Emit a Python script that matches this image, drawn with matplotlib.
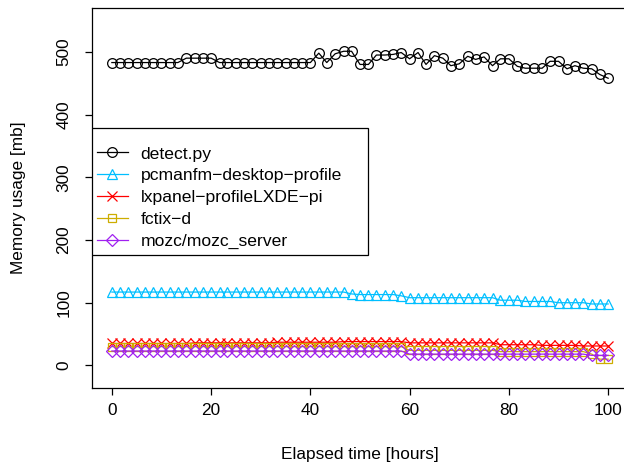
import matplotlib
matplotlib.use("Agg")
import matplotlib.pyplot as plt
from matplotlib.patches import Rectangle

plt.rcParams['font.family'] = ['Liberation Sans', 'DejaVu Sans']

# sampling times [hours], one sample every 100/60 h
hours = [0.0, 1.7, 3.3, 5.0, 6.7, 8.3, 10.0, 11.7, 13.3, 15.0,
         16.7, 18.3, 20.0, 21.7, 23.3, 25.0, 26.7, 28.3, 30.0, 31.7,
         33.3, 35.0, 36.7, 38.3, 40.0, 41.7, 43.3, 45.0, 46.7, 48.3,
         50.0, 51.7, 53.3, 55.0, 56.7, 58.3, 60.0, 61.7, 63.3, 65.0,
         66.7, 68.3, 70.0, 71.7, 73.3, 75.0, 76.7, 78.3, 80.0, 81.7,
         83.3, 85.0, 86.7, 88.3, 90.0, 91.7, 93.3, 95.0, 96.7, 98.3,
         100.0]

detect_py = [483, 483, 483, 483, 483, 483, 483, 483, 483, 490,
             490, 490, 490, 483, 483, 483, 483, 483, 483, 483,
             483, 483, 483, 483, 483, 498, 483, 497, 501, 501,
             480, 480, 495, 495, 496, 499, 489, 499, 480, 494,
             490, 478, 481, 493, 488, 492, 478, 489, 489, 477,
             474, 474, 474, 485, 485, 473, 478, 474, 473, 464,
             458]

pcmanfm = [117] * 29 + [114, 113, 113, 113, 113, 113, 111] + [108] * 11 + \
          [104, 104, 104, 102, 102, 102, 102, 100, 100, 100, 100, 98, 98, 98]

lxpanel = [35] * 10 + [36] * 10 + [37] * 8 + [38] * 8 + [36] * 11 + \
          [33, 33, 33, 33, 33, 32, 32, 32, 32, 32, 31, 31, 31, 31]

fctix = [30] * 36 + [24] * 11 + [22] * 11 + [18, 10, 10]

mozc = [23] * 36 + [18] * 22 + [16, 16, 16]

series = [
    ("detect.py", detect_py, "black", "o", 7),
    ("pcmanfm\u2212desktop\u2212profile", pcmanfm, "#00BFFF", "^", 7.5),
    ("lxpanel\u2212profileLXDE\u2212pi", lxpanel, "red", "x", 6.5),
    ("fctix\u2212d", fctix, "#CDAD00", "s", 5.5),
    ("mozc/mozc_server", mozc, "#A020F0", "D", 6.5),
]

fs = 12.4

fig = plt.figure(figsize=(6.24, 4.70), dpi=100)
ax = fig.add_axes([92 / 624, 82 / 470, 536 / 624, 380 / 470])

for label, values, color, marker, ms in series:
    ax.plot(hours, values, color=color, marker=marker, markersize=ms,
            markerfacecolor="none", markeredgecolor=color,
            markeredgewidth=0.9, linewidth=0.9, label=label)

ax.set_xlim(-4, 104)
ax.set_ylim(-36, 570)
ax.set_xticks([0, 20, 40, 60, 80, 100])
ax.set_yticks([0, 100, 200, 300, 400, 500])
ax.set_yticklabels(["0", "100", "200", "300", "400", "500"],
                   rotation=90, va="center")
ax.tick_params(direction="out", length=5, width=0.9, labelsize=fs)
ax.tick_params(axis="x", pad=6)
ax.tick_params(axis="y", pad=10)
for sp in ax.spines.values():
    sp.set_linewidth(0.9)

ax.set_xlabel("Elapsed time [hours]", fontsize=fs)
ax.set_ylabel("Memory usage [mb]", fontsize=fs)
ax.xaxis.set_label_coords(0.5, -0.176)
ax.xaxis.label.set_va("center")
ax.yaxis.set_label_coords(-0.138, 0.5)
ax.yaxis.label.set_va("center")

# R-style legend box, drawn by hand
ax.add_patch(Rectangle((0, 0.35), 0.515, 0.334, transform=ax.transAxes,
                       facecolor="white", edgecolor="black", linewidth=0.9,
                       zorder=4.5))
leg = ax.legend(loc="upper left", bbox_to_anchor=(0.0093, 0.636),
                borderaxespad=0, borderpad=0, fontsize=12.6, frameon=False,
                handlelength=1.75, handletextpad=0.75, labelspacing=0.38)

fig.savefig("out.png", dpi=100)
